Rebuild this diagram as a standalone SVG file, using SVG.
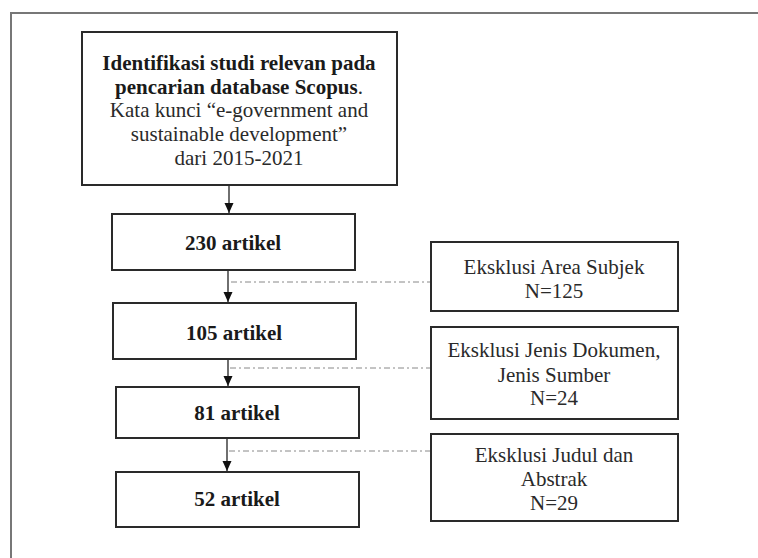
<svg xmlns="http://www.w3.org/2000/svg" width="758" height="558" viewBox="0 0 758 558">
<style>
.box{fill:#fff;stroke:#2a2a2a;stroke-width:2}
.t{font-size:21px;fill:#2a2a2a;text-anchor:middle}
.b{font-weight:bold;fill:#1a1a1a}
.arr{stroke:#222;stroke-width:1.3;fill:none}
.dash{stroke:#888;stroke-width:1;stroke-dasharray:6 3 2 3;fill:none}
</style>
<defs>
<marker id="ah" viewBox="0 0 10 10" refX="10" refY="5" markerWidth="10" markerHeight="10" markerUnits="userSpaceOnUse" orient="auto">
<path d="M0,0.5 L10,5 L0,9.5 z" fill="#111"/>
</marker>
</defs>
<rect width="758" height="558" fill="#fff"/>
<path d="M11,560 L11,13 L760,13" fill="none" stroke="#777" stroke-width="2"/>
<g id="connectors">
<line class="arr" x1="229" y1="186" x2="229" y2="213" marker-end="url(#ah)"/>
<line class="arr" x1="228" y1="271" x2="228" y2="302" marker-end="url(#ah)"/>
<line class="arr" x1="228" y1="360" x2="228" y2="386" marker-end="url(#ah)"/>
<line class="arr" x1="227" y1="439" x2="227" y2="471" marker-end="url(#ah)"/>
<line class="dash" x1="231" y1="282" x2="431" y2="282"/>
<line class="dash" x1="230" y1="368" x2="431" y2="368"/>
<line class="dash" x1="229" y1="451" x2="431" y2="451"/>
</g>
<g id="n1">
<rect class="box" x="82" y="32" width="315" height="153"/>
<text class="t b" x="239" y="70" font-family="Liberation Serif">Identifikasi studi relevan pada</text>
<text class="t" x="239" y="94" font-family="Liberation Serif"><tspan class="b">pencarian database Scopus</tspan>.</text>
<text class="t" x="239" y="117" font-family="Liberation Serif">Kata kunci “e-government and</text>
<text class="t" x="239" y="141" font-family="Liberation Serif">sustainable development”</text>
<text class="t" x="239" y="165" font-family="Liberation Serif">dari 2015-2021</text>
</g>
<g id="n2">
<rect class="box" x="112" y="214" width="243" height="56"/>
<text class="t b" x="233" y="250" font-family="Liberation Serif">230 artikel</text>
</g>
<g id="n3">
<rect class="box" x="113" y="303" width="243" height="56"/>
<text class="t b" x="234" y="340" font-family="Liberation Serif">105 artikel</text>
</g>
<g id="n4">
<rect class="box" x="116" y="387" width="243" height="51"/>
<text class="t b" x="237" y="420" font-family="Liberation Serif">81 artikel</text>
</g>
<g id="n5">
<rect class="box" x="116" y="472" width="243" height="55"/>
<text class="t b" x="237" y="506" font-family="Liberation Serif">52 artikel</text>
</g>
<g id="e1">
<rect class="box" x="431" y="242" width="247" height="69"/>
<text class="t" x="554" y="274" font-family="Liberation Serif">Eksklusi Area Subjek</text>
<text class="t" x="554" y="298" font-family="Liberation Serif">N=125</text>
</g>
<g id="e2">
<rect class="box" x="431" y="327" width="247" height="92"/>
<text class="t" x="554" y="357" font-family="Liberation Serif">Eksklusi Jenis Dokumen,</text>
<text class="t" x="554" y="382" font-family="Liberation Serif">Jenis Sumber</text>
<text class="t" x="554" y="405" font-family="Liberation Serif">N=24</text>
</g>
<g id="e3">
<rect class="box" x="431" y="434" width="247" height="87"/>
<text class="t" x="554" y="462" font-family="Liberation Serif">Eksklusi Judul dan</text>
<text class="t" x="554" y="486" font-family="Liberation Serif">Abstrak</text>
<text class="t" x="554" y="510" font-family="Liberation Serif">N=29</text>
</g>
</svg>
